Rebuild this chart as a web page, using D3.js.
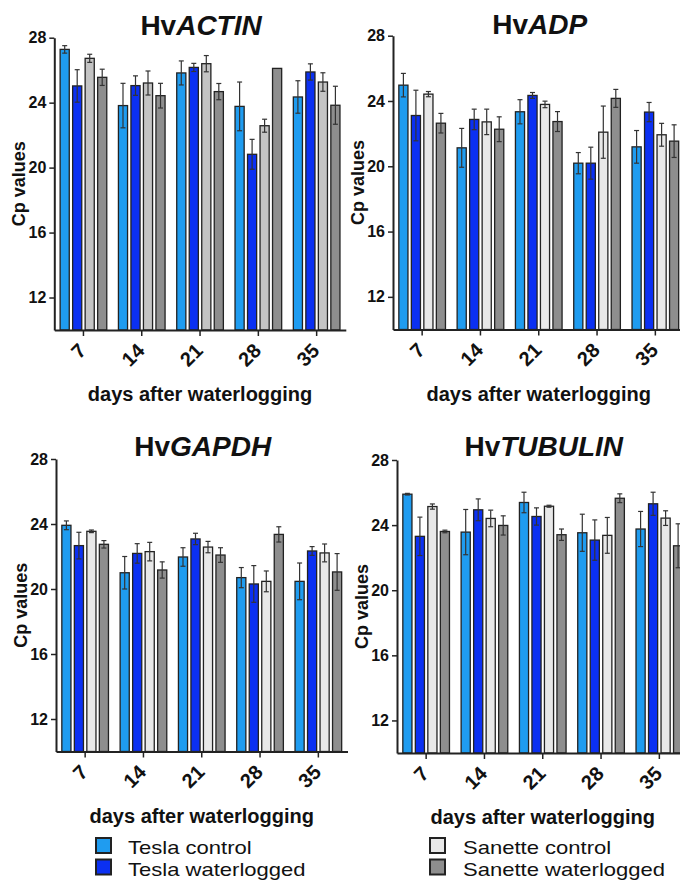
<!DOCTYPE html>
<html>
<head>
<meta charset="utf-8">
<script src="https://cdn.jsdelivr.net/npm/d3@7"></script>
<style>
  body { margin: 0; background: #fff; }
  svg { display: block; font-family: 'Liberation Sans', Arial, Helvetica, sans-serif; }
</style>
</head>
<body>
<svg width="680" height="881"></svg>
<script>
// categories
const days = [7, 14, 21, 28, 35]
const series = ['Tesla control', 'Tesla waterlogged', 'Sanette control', 'Sanette waterlogged']
const yTicks = [12, 16, 20, 24, 28]

// mean Cp per day, in series order
const actinMeans = [
  [27.28, 25.03, 26.73, 25.56],
  [23.82, 25.05, 25.21, 24.43],
  [25.83, 26.17, 26.40, 24.68],
  [23.77, 20.82, 22.58, 26.11],
  [24.35, 25.89, 25.27, 23.84]
]
const actinErrors = [
  [0.23, 1.0, 0.25, 0.5],
  [1.37, 0.6, 0.74, 0.76],
  [0.74, 0.25, 0.5, 0.5],
  [1.5, 0.92, 0.4, 0],
  [1.0, 0.5, 0.57, 1.17]
]
const adpMeans = [
  [24.97, 23.11, 24.42, 22.64],
  [21.13, 22.87, 22.72, 22.27],
  [23.34, 24.34, 23.79, 22.74],
  [20.19, 20.19, 22.09, 24.16],
  [21.19, 23.32, 21.93, 21.54]
]
const adpErrors = [
  [0.72, 1.55, 0.16, 0.6],
  [1.19, 0.63, 0.78, 0.76],
  [0.74, 0.18, 0.2, 0.61],
  [0.65, 0.98, 1.6, 0.55],
  [1.0, 0.59, 0.7, 1.0]
]
const gapdhMeans = [
  [23.92, 22.67, 23.55, 22.75],
  [21.0, 22.19, 22.30, 21.17],
  [21.97, 23.08, 22.58, 22.09],
  [20.70, 20.31, 20.47, 23.36],
  [20.47, 22.34, 22.22, 21.05]
]
const gapdhErrors = [
  [0.27, 0.82, 0.08, 0.23],
  [1.0, 0.6, 0.57, 0.5],
  [0.57, 0.35, 0.35, 0.45],
  [0.62, 1.13, 0.64, 0.47],
  [1.13, 0.27, 0.55, 1.13]
]
const tubulinMeans = [
  [25.9, 23.31, 25.14, 23.61],
  [23.57, 24.94, 24.41, 23.98],
  [25.39, 24.53, 25.16, 23.41],
  [23.53, 23.08, 23.37, 25.65],
  [23.76, 25.31, 24.43, 22.73]
]
const tubulinErrors = [
  [0.05, 1.18, 0.16, 0.08],
  [1.39, 0.67, 0.51, 0.59],
  [0.63, 0.53, 0.06, 0.35],
  [1.14, 1.24, 1.1, 0.27],
  [1.08, 0.71, 0.45, 1.35]
]

const colors = ['#1f9cf0', '#0b30f2', '#e8e8e8', '#8e8e8e']
const outline = '#222'

// panel layout (where each small chart sits)
const panels = [
  { gene: 'ACTIN', means: actinMeans, errs: actinErrors, ax: 54.3, top: 37.7, bot: 330, titleY: 35, light: '#c4c4c4' },
  { gene: 'ADP', means: adpMeans, errs: adpErrors, ax: 393, top: 35.7, bot: 329.5, titleY: 34 },
  { gene: 'GAPDH', means: gapdhMeans, errs: gapdhErrors, ax: 56, top: 459, bot: 751.5, titleY: 456 },
  { gene: 'TUBULIN', means: tubulinMeans, errs: tubulinErrors, ax: 397, top: 460, bot: 753, titleY: 456 }
]
const step = 58.3

const svg = d3.select('svg')

panels.forEach(p => {
  const g = svg.append('g')
  const x = d3.scaleBand()
    .domain(days)
    .range([p.ax, p.ax + step * days.length])
    .paddingInner(0.2)
    .paddingOuter(0.1)
  const xs = d3.scaleBand()
    .domain(series)
    .range([0, x.bandwidth()])
    .paddingInner(0.27)
  const y = d3.scaleLinear()
    .domain([10, 28])
    .range([p.bot, p.top])
  const fill = (s, i) => (i === 2 && p.light) ? p.light : colors[i]

  // bars
  const groups = g.selectAll('g.day')
    .data(days.map((d, i) => ({ day: d, vals: p.means[i], errs: p.errs[i] })))
    .join('g')
    .attr('class', 'day')
    .attr('transform', d => `translate(${x(d.day)},0)`)

  groups.selectAll('rect')
    .data(d => d.vals.map((v, i) => ({ s: series[i], i, v, e: d.errs[i] })))
    .join('rect')
    .attr('x', d => xs(d.s))
    .attr('width', xs.bandwidth())
    .attr('y', d => y(d.v))
    .attr('height', d => y(10) - y(d.v))
    .attr('fill', d => fill(d.s, d.i))
    .attr('stroke', outline)
    .attr('stroke-width', 1.3)

  // error bars
  const err = groups.selectAll('g.err')
    .data(d => d.vals.map((v, i) => ({ s: series[i], v, e: d.errs[i] })).filter(d => d.e > 0))
    .join('g')
    .attr('class', 'err')
    .attr('stroke', '#333')
    .attr('stroke-width', 1.2)
  err.append('line')
    .attr('x1', d => xs(d.s) + xs.bandwidth() / 2)
    .attr('x2', d => xs(d.s) + xs.bandwidth() / 2)
    .attr('y1', d => y(d.v - d.e))
    .attr('y2', d => y(d.v + d.e))
  err.selectAll('line.cap')
    .data(d => [d.v - d.e, d.v + d.e].map(t => ({ s: d.s, t })))
    .join('line')
    .attr('class', 'cap')
    .attr('x1', d => xs(d.s) + xs.bandwidth() / 2 - 2.5)
    .attr('x2', d => xs(d.s) + xs.bandwidth() / 2 + 2.5)
    .attr('y1', d => y(d.t))
    .attr('y2', d => y(d.t))

  // y axis
  const yAxis = g.append('g')
    .attr('transform', `translate(${p.ax},0)`)
    .call(d3.axisLeft(y).tickValues(yTicks).tickSize(5).tickSizeOuter(0))
  yAxis.select('.domain').attr('stroke', '#222').attr('stroke-width', 2)
  yAxis.selectAll('.tick line').attr('stroke', '#222').attr('stroke-width', 1.5)
  yAxis.selectAll('.tick text')
    .attr('font-size', 16)
    .attr('font-weight', 'bold')
    .attr('fill', '#111')
    .attr('font-family', null)

  // x axis
  const xAxis = g.append('g')
    .attr('transform', `translate(0,${p.bot})`)
    .call(d3.axisBottom(x).tickSize(6).tickSizeOuter(0))
  xAxis.select('.domain').attr('stroke', '#222').attr('stroke-width', 2)
  xAxis.selectAll('.tick line').attr('stroke', '#222').attr('stroke-width', 1.5)
  xAxis.selectAll('.tick text')
    .attr('y', 0)
    .attr('dy', 0)
    .attr('transform', 'translate(4,22) rotate(-45)')
    .attr('text-anchor', 'end')
    .attr('font-size', 20)
    .attr('font-weight', 'bold')
    .attr('fill', '#111')
    .attr('font-family', null)

  const mid = (x.range()[0] + x.range()[1]) / 2

  // titles
  const title = g.append('text')
    .attr('x', mid + 1)
    .attr('y', p.titleY)
    .attr('text-anchor', 'middle')
    .attr('font-size', 28)
    .attr('font-weight', 'bold')
    .attr('fill', '#111')
  title.append('tspan').text('Hv')
  title.append('tspan').attr('font-style', 'italic').text(p.gene)

  g.append('text')
    .attr('transform', `translate(${p.ax - 29},${(p.top + p.bot) / 2}) rotate(-90)`)
    .attr('text-anchor', 'middle')
    .attr('font-size', 18)
    .attr('font-weight', 'bold')
    .attr('fill', '#111')
    .text('Cp values')

  g.append('text')
    .attr('x', mid)
    .attr('y', p.bot + 71)
    .attr('text-anchor', 'middle')
    .attr('font-size', 20)
    .attr('font-weight', 'bold')
    .attr('fill', '#111')
    .text('days after waterlogging')
})

// legend
const legendPos = [[96, 838], [96, 859.5], [430, 838], [430, 859.5]]
const legend = svg.append('g')
  .selectAll('g')
  .data(series)
  .join('g')
  .attr('transform', (d, i) => `translate(${legendPos[i][0]},${legendPos[i][1]})`)
legend.append('rect')
  .attr('width', 15)
  .attr('height', 15)
  .attr('fill', (d, i) => colors[i])
  .attr('stroke', outline)
  .attr('stroke-width', 2)
legend.append('text')
  .attr('transform', (d, i) => `translate(${i < 2 ? 32 : 33},16) scale(1.16,1)`)
  .attr('font-size', 19)
  .attr('fill', '#111')
  .text(d => d)
</script>
</body>
</html>
